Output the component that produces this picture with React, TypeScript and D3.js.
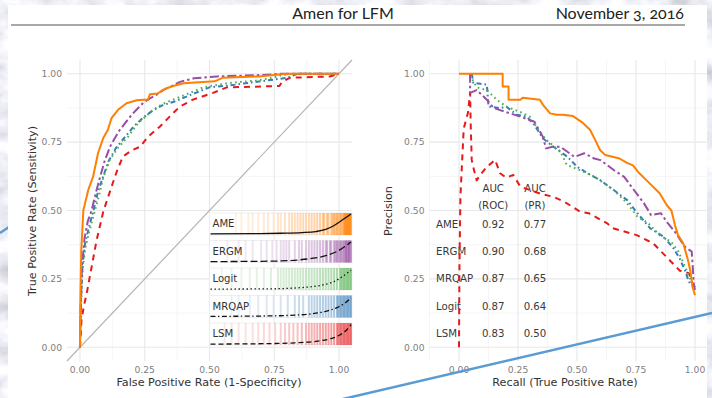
import React from 'react';
import * as d3 from 'd3';

type Pt = [number, number];

// ---- data -------------------------------------------------------------
const legendModels = ['AME', 'ERGM', 'Logit', 'MRQAP', 'LSM'];
const tableModels = ['AME', 'ERGM', 'MRQAP', 'Logit', 'LSM'];
const aucRoc = [0.92, 0.90, 0.87, 0.87, 0.83];
const aucPr = [0.77, 0.68, 0.65, 0.64, 0.50];

const axisTicks = [0, 0.25, 0.5, 0.75, 1];
const minorTicks = [0.125, 0.375, 0.625, 0.875];
const prMinorX = [-0.125, 0.125, 0.375, 0.625, 0.875];

// ROC curves: [false positive rate, true positive rate]
const rocAME: Pt[] = [[0,0],[0.002,0.2],[0.005,0.35],[0.013,0.5],[0.032,0.575],[0.051,0.625],[0.07,0.71],[0.09,0.765],[0.108,0.795],[0.122,0.838],[0.147,0.868],[0.18,0.892],[0.219,0.903],[0.263,0.906],[0.27,0.925],[0.30,0.928],[0.335,0.947],[0.36,0.955],[0.40,0.965],[0.52,0.972],[0.55,0.985],[0.69,0.99],[0.8,1],[1,1]];
const rocERGM: Pt[] = [[0,0],[0.003,0.15],[0.008,0.3],[0.018,0.4],[0.03,0.46],[0.045,0.5],[0.06,0.56],[0.077,0.62],[0.095,0.68],[0.116,0.733],[0.135,0.765],[0.154,0.795],[0.175,0.82],[0.2,0.85],[0.22,0.87],[0.244,0.893],[0.27,0.91],[0.296,0.923],[0.32,0.94],[0.35,0.953],[0.386,0.97],[0.44,0.983],[0.53,0.99],[0.7,0.995],[0.78,1],[1,1]];
const rocLogit: Pt[] = [[0,0],[0.004,0.15],[0.01,0.28],[0.02,0.36],[0.035,0.42],[0.058,0.5],[0.075,0.56],[0.09,0.62],[0.115,0.685],[0.147,0.73],[0.186,0.77],[0.225,0.82],[0.255,0.845],[0.283,0.868],[0.32,0.89],[0.36,0.905],[0.425,0.93],[0.475,0.95],[0.567,0.965],[0.68,0.975],[0.745,0.985],[0.78,0.995],[0.82,1],[1,1]];
const rocMRQAP: Pt[] = [[0,0],[0.004,0.18],[0.01,0.3],[0.02,0.38],[0.035,0.44],[0.052,0.5],[0.07,0.57],[0.088,0.62],[0.11,0.68],[0.14,0.73],[0.175,0.77],[0.21,0.81],[0.245,0.84],[0.28,0.865],[0.32,0.885],[0.37,0.9],[0.42,0.92],[0.5,0.95],[0.6,0.96],[0.72,0.975],[0.8,0.985],[0.84,1],[1,1]];
const rocLSM: Pt[] = [[0,0],[0.006,0.1],[0.015,0.15],[0.026,0.197],[0.045,0.294],[0.064,0.39],[0.09,0.496],[0.122,0.587],[0.145,0.65],[0.166,0.697],[0.2,0.72],[0.232,0.733],[0.263,0.77],[0.309,0.807],[0.347,0.844],[0.386,0.88],[0.436,0.905],[0.514,0.93],[0.567,0.95],[0.77,0.955],[0.78,0.97],[0.81,0.985],[0.965,0.99],[1,1]];

// Precision-recall curves: [recall, precision]
const prAME: Pt[] = [[0,1],[0.185,1],[0.185,0.953],[0.21,0.953],[0.21,0.905],[0.26,0.905],[0.27,0.912],[0.343,0.905],[0.356,0.886],[0.386,0.855],[0.414,0.85],[0.44,0.85],[0.483,0.845],[0.525,0.82],[0.555,0.795],[0.576,0.76],[0.598,0.72],[0.62,0.703],[0.68,0.69],[0.71,0.675],[0.737,0.665],[0.76,0.64],[0.795,0.61],[0.85,0.563],[0.88,0.52],[0.9,0.5],[0.915,0.447],[0.928,0.41],[0.95,0.38],[0.97,0.32],[0.98,0.28],[0.99,0.22],[1,0.19]];
const prERGM: Pt[] = [[0.047,1],[0.047,0.93],[0.075,0.94],[0.118,0.905],[0.146,0.875],[0.174,0.867],[0.216,0.855],[0.26,0.843],[0.319,0.825],[0.355,0.77],[0.369,0.727],[0.397,0.733],[0.43,0.733],[0.489,0.696],[0.531,0.709],[0.573,0.69],[0.6,0.684],[0.657,0.647],[0.7,0.623],[0.742,0.574],[0.785,0.525],[0.814,0.483],[0.856,0.49],[0.88,0.459],[0.915,0.422],[0.958,0.367],[0.986,0.35],[0.99,0.3],[0.995,0.23],[1,0.21]];
const prLogit: Pt[] = [[0.047,0.995],[0.075,0.95],[0.118,0.94],[0.16,0.905],[0.2,0.88],[0.26,0.86],[0.3,0.843],[0.34,0.79],[0.37,0.758],[0.43,0.715],[0.456,0.667],[0.513,0.647],[0.573,0.624],[0.657,0.574],[0.714,0.525],[0.756,0.477],[0.8,0.455],[0.85,0.41],[0.9,0.385],[0.93,0.35],[0.95,0.31],[0.97,0.27],[0.985,0.24],[1,0.22]];
const prMRQAP: Pt[] = [[0.054,1],[0.061,0.966],[0.118,0.96],[0.125,0.88],[0.174,0.874],[0.2,0.88],[0.245,0.85],[0.287,0.843],[0.319,0.813],[0.355,0.764],[0.4,0.733],[0.46,0.696],[0.5,0.66],[0.557,0.63],[0.6,0.61],[0.657,0.574],[0.714,0.537],[0.756,0.49],[0.81,0.435],[0.866,0.405],[0.908,0.363],[0.935,0.325],[0.958,0.28],[0.97,0.25],[0.98,0.23],[1,0.22]];
const prLSM: Pt[] = [[0,0],[0.002,0.3],[0.006,0.55],[0.02,0.8],[0.038,0.857],[0.047,0.93],[0.05,0.8],[0.054,0.685],[0.06,0.66],[0.075,0.61],[0.09,0.63],[0.118,0.66],[0.14,0.675],[0.153,0.685],[0.174,0.636],[0.2,0.62],[0.23,0.63],[0.26,0.587],[0.3,0.575],[0.35,0.56],[0.4,0.55],[0.45,0.53],[0.513,0.496],[0.55,0.49],[0.626,0.454],[0.653,0.435],[0.753,0.41],[0.823,0.38],[0.9,0.312],[0.936,0.28],[0.96,0.275],[0.975,0.27],[0.985,0.24],[1,0.22]];

// Separation plots: sorted positions of observed ties, and the sorted predicted probability
const sepAME = [0.18,0.22,0.27,0.3,0.34,0.38,0.41,0.45,0.48,0.5,0.53,0.56,0.58,0.6,0.62,0.64,0.66,0.68,0.7,0.72,0.74,0.76,0.78,0.8,0.81,0.83,0.84,0.86,0.87,0.88,0.89,0.9,0.91,0.92,0.93,0.94,0.95,0.955,0.96,0.965,0.97,0.975,0.98,0.985,0.99,0.995,1];
const sepERGM = [0.12,0.2,0.25,0.3,0.36,0.4,0.44,0.47,0.5,0.52,0.54,0.56,0.6,0.63,0.65,0.68,0.7,0.72,0.74,0.76,0.78,0.8,0.82,0.83,0.85,0.86,0.88,0.89,0.9,0.91,0.92,0.93,0.94,0.95,0.96,0.965,0.97,0.98,0.985,0.99,1];
const sepLogit = [0.08,0.15,0.22,0.28,0.33,0.38,0.43,0.48,0.5,0.52,0.54,0.56,0.58,0.6,0.62,0.64,0.66,0.68,0.7,0.72,0.74,0.76,0.78,0.8,0.82,0.84,0.86,0.88,0.9,0.92,0.93,0.94,0.95,0.96,0.97,0.98,0.99,1];
const sepMRQAP = [0.15,0.2,0.28,0.34,0.4,0.45,0.5,0.55,0.6,0.63,0.66,0.7,0.72,0.74,0.76,0.78,0.8,0.82,0.84,0.86,0.88,0.9,0.91,0.92,0.93,0.94,0.95,0.96,0.97,0.98,0.99,1];
const sepLSM = [0.1,0.15,0.2,0.25,0.3,0.34,0.38,0.42,0.46,0.5,0.53,0.56,0.59,0.62,0.65,0.68,0.7,0.72,0.74,0.76,0.78,0.8,0.82,0.84,0.86,0.88,0.9,0.91,0.92,0.93,0.94,0.95,0.96,0.97,0.98,0.99,1];

const probAME: Pt[] = [[0,0.03],[0.3,0.04],[0.5,0.06],[0.65,0.09],[0.75,0.14],[0.82,0.24],[0.88,0.43],[0.94,0.7],[1,0.98]];
const probERGM: Pt[] = [[0,0.02],[0.3,0.03],[0.5,0.05],[0.63,0.1],[0.72,0.17],[0.82,0.3],[0.9,0.5],[0.96,0.75],[1,0.95]];
const probLogit: Pt[] = [[0,0.02],[0.4,0.03],[0.6,0.07],[0.7,0.12],[0.8,0.22],[0.88,0.38],[0.94,0.62],[1,0.92]];
const probMRQAP: Pt[] = [[0,0.03],[0.4,0.05],[0.6,0.09],[0.72,0.15],[0.82,0.27],[0.9,0.45],[0.96,0.68],[1,0.9]];
const probLSM: Pt[] = [[0,0.02],[0.4,0.04],[0.6,0.08],[0.75,0.15],[0.85,0.27],[0.92,0.45],[0.97,0.7],[1,0.95]];

// ---- styling ------------------------------------------------------------
const COLORS: Record<string, string> = {
  AME: '#FF7F00', ERGM: '#984EA3', Logit: '#4DAF4A', MRQAP: '#377EB8', LSM: '#E41A1C',
};
const DASH: Record<string, string | undefined> = {
  AME: undefined, ERGM: '9 3 2.5 3', Logit: '1.6 3.4', MRQAP: '5 3 1.6 3', LSM: '6 5',
};
const LEGEND_DASH: Record<string, string | undefined> = {
  AME: undefined, ERGM: '7 3', Logit: '1.4 2.6', MRQAP: '5 2.5 1.4 2.5', LSM: '5 3',
};

const rocData: Record<string, Pt[]> = { AME: rocAME, ERGM: rocERGM, Logit: rocLogit, MRQAP: rocMRQAP, LSM: rocLSM };
const prData: Record<string, Pt[]> = { AME: prAME, ERGM: prERGM, Logit: prLogit, MRQAP: prMRQAP, LSM: prLSM };
const sepData: Record<string, number[]> = { AME: sepAME, ERGM: sepERGM, Logit: sepLogit, MRQAP: sepMRQAP, LSM: sepLSM };
const probData: Record<string, Pt[]> = { AME: probAME, ERGM: probERGM, Logit: probLogit, MRQAP: probMRQAP, LSM: probLSM };
const drawOrder = ['LSM', 'MRQAP', 'Logit', 'ERGM', 'AME'];

const W = 712;
const H = 398;
const FONT = '"DejaVu Sans", Verdana, sans-serif';
const TICK_COLOR = '#808080';
const TITLE_COLOR = '#333333';
const fmt = d3.format('.2f');

// scales
const yS = d3.scaleLinear().domain([-0.05, 1.05]).range([361, 60]);
const xL = d3.scaleLinear().domain([-0.05, 1.05]).range([67, 352]);
const xR = d3.scaleLinear().domain([-0.125, 1.05]).range([429.5, 706.8]);
// stripe strength grows along the sorted predictions
const stripeAlpha = d3.scalePow().exponent(2).domain([0, 1]).range([0.1, 0.55]);

function Grid({ x, xMinor }: { x: d3.ScaleLinear<number, number>; xMinor: number[] }) {
  const [x0, x1] = x.range();
  const [y0, y1] = yS.range();
  return (
    <g>
      {xMinor.map((v) => (
        <line key={'xm' + v} x1={x(v)} x2={x(v)} y1={y0} y2={y1} stroke="#f3f3f3" strokeWidth={0.8} />
      ))}
      {minorTicks.map((v) => (
        <line key={'ym' + v} x1={x0} x2={x1} y1={yS(v)} y2={yS(v)} stroke="#f3f3f3" strokeWidth={0.8} />
      ))}
      {axisTicks.map((v) => (
        <line key={'x' + v} x1={x(v)} x2={x(v)} y1={y0} y2={y1} stroke="#e8e8e8" strokeWidth={1.1} />
      ))}
      {axisTicks.map((v) => (
        <line key={'y' + v} x1={x0} x2={x1} y1={yS(v)} y2={yS(v)} stroke="#e8e8e8" strokeWidth={1.1} />
      ))}
      {axisTicks.map((v) => (
        <text key={'xt' + v} x={x(v)} y={373} textAnchor="middle" fontSize={9.2} fill={TICK_COLOR} fontFamily={FONT}>
          {fmt(v)}
        </text>
      ))}
      {axisTicks.map((v) => (
        <text key={'yt' + v} x={x0 - 5} y={yS(v)} dy="0.35em" textAnchor="end" fontSize={9.2} fill={TICK_COLOR} fontFamily={FONT}>
          {fmt(v)}
        </text>
      ))}
    </g>
  );
}

function Curves({ x, data }: { x: d3.ScaleLinear<number, number>; data: Record<string, Pt[]> }) {
  const line = d3.line<Pt>().x((d) => x(d[0])).y((d) => yS(d[1]));
  return (
    <g>
      {drawOrder.map((m) => (
        <path key={m} d={line(data[m]) || ''} fill="none" stroke={COLORS[m]} strokeWidth={2}
          strokeDasharray={DASH[m]} strokeLinejoin="round" />
      ))}
    </g>
  );
}

function SeparationLegend() {
  const band = d3.scaleBand<string>().domain(legendModels).range([213, 345]).paddingInner(0.2);
  const bx = xL(0.5);
  const bw = xL.range()[1] - bx;
  const bh = band.bandwidth();
  const sx = d3.scaleLinear().domain([0, 1]).range([bx + 1, bx + bw - 1]);
  return (
    <g>
      {legendModels.map((m) => {
        const top = band(m) as number;
        const py = d3.scaleLinear().domain([0, 1]).range([top + bh - 0.5, top + 0.5]);
        const curve = d3.line<Pt>().x((d) => sx(d[0])).y((d) => py(d[1])).curve(d3.curveMonotoneX);
        return (
          <g key={m}>
            <rect x={bx} y={top} width={bw} height={bh} fill="#ffffff" stroke="#ececec" strokeWidth={0.8} />
            {sepData[m].map((p, i) => (
              <rect key={i} x={sx(p) - 1} y={top} width={2} height={bh} fill={COLORS[m]} opacity={stripeAlpha(p)} />
            ))}
            <text x={bx + 3} y={top + bh / 2} dy="0.3em" fontSize={10.1} fill={TITLE_COLOR} fontFamily={FONT}>
              {m}
            </text>
            <path d={curve(probData[m]) || ''} fill="none" stroke="#111" strokeWidth={1.3}
              strokeDasharray={LEGEND_DASH[m]} />
          </g>
        );
      })}
    </g>
  );
}

function AucTable() {
  const rowY = [0.45, 0.35, 0.25, 0.15, 0.05];
  const colName = -0.097;
  const colRoc = 0.145;
  const colPr = 0.322;
  const t = { fontSize: 10.2, fill: '#3a3a3a', fontFamily: FONT };
  return (
    <g>
      <text x={xR(colRoc)} y={yS(0.58)} dy="0.35em" textAnchor="middle" {...t}>AUC</text>
      <text x={xR(colRoc)} y={yS(0.52)} dy="0.35em" textAnchor="middle" {...t}>(ROC)</text>
      <text x={xR(colPr)} y={yS(0.58)} dy="0.35em" textAnchor="middle" {...t}>AUC</text>
      <text x={xR(colPr)} y={yS(0.52)} dy="0.35em" textAnchor="middle" {...t}>(PR)</text>
      {tableModels.map((m, i) => (
        <g key={m}>
          <text x={xR(colName)} y={yS(rowY[i])} dy="0.35em" {...t}>{m}</text>
          <text x={xR(colRoc)} y={yS(rowY[i])} dy="0.35em" textAnchor="middle" {...t}>{fmt(aucRoc[i])}</text>
          <text x={xR(colPr)} y={yS(rowY[i])} dy="0.35em" textAnchor="middle" {...t}>{fmt(aucPr[i])}</text>
        </g>
      ))}
    </g>
  );
}

export default function App() {
  const diag: Pt[] = [[-0.05, -0.05], [1.05, 1.05]];
  const diagLine = d3.line<Pt>().x((d) => xL(d[0])).y((d) => yS(d[1]));
  return (
    <svg width={W} height={H} viewBox={`0 0 ${W} ${H}`}
      style={{ position: 'absolute', left: 0, top: 0, display: 'block' }}>
      <defs>
        <filter id="stone" x="0" y="0" width="100%" height="100%">
          <feTurbulence type="fractalNoise" baseFrequency="0.03 0.05" numOctaves={4} seed={7} result="n" />
          <feColorMatrix in="n" type="matrix"
            values="0.7 0 0 0 0.5  0.7 0 0 0 0.5  0.7 0 0 0 0.56  0 0 0 0 1" />
        </filter>
      </defs>

      {/* slide backdrop */}
      <rect x={0} y={0} width={W} height={H} filter="url(#stone)" />
      <line x1={0} y1={233} x2={9} y2={227} stroke="#5b9bd5" strokeWidth={2.5} />
      <rect x={8} y={5} width={699} height={H} fill="#ffffff" />

      {/* slide header */}
      <text x={343} y={19} textAnchor="middle" fontSize={16} fill="#222" fontFamily="Lato, 'Open Sans', sans-serif">
        Amen for LFM
      </text>
      <text x={684} y={19} textAnchor="end" fontSize={16} fill="#222" fontFamily="Lato, 'Open Sans', sans-serif"
        style={{ fontVariantNumeric: 'oldstyle-nums' }}>
        November 3, 2016
      </text>
      <line x1={11} x2={685} y1={25} y2={25} stroke="#a8a8a8" strokeWidth={2} />

      {/* ROC panel */}
      <Grid x={xL} xMinor={minorTicks} />
      <path d={diagLine(diag) || ''} stroke="#b5b5b5" strokeWidth={1.2} fill="none" />
      <Curves x={xL} data={rocData} />
      <SeparationLegend />
      <text x={209} y={382} dy="0.35em" textAnchor="middle" fontSize={11.2} fill={TITLE_COLOR} fontFamily={FONT}>
        False Positive Rate (1-Specificity)
      </text>
      <text transform={`translate(32,211) rotate(-90)`} dy="0.35em" textAnchor="middle" fontSize={11.2}
        fill={TITLE_COLOR} fontFamily={FONT}>
        True Positive Rate (Sensitivity)
      </text>

      {/* precision-recall panel */}
      <Grid x={xR} xMinor={prMinorX} />
      <AucTable />
      <Curves x={xR} data={prData} />
      <text x={565} y={382} dy="0.35em" textAnchor="middle" fontSize={11.2} fill={TITLE_COLOR} fontFamily={FONT}>
        Recall (True Positive Rate)
      </text>
      <text transform={`translate(388,211) rotate(-90)`} dy="0.35em" textAnchor="middle" fontSize={11.2}
        fill={TITLE_COLOR} fontFamily={FONT}>
        Precision
      </text>

      {/* slide accent line */}
      <line x1={330} y1={402} x2={712} y2={313} stroke="#5b9bd5" strokeWidth={2.5} />
    </svg>
  );
}
